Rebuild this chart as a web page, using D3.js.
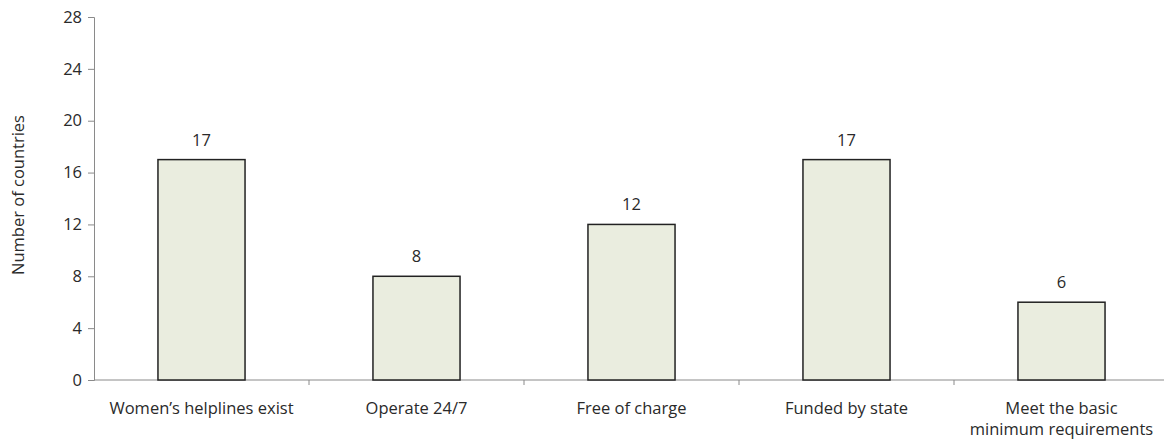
<!DOCTYPE html>
<html>
<head>
<meta charset="utf-8">
<script src="https://cdn.jsdelivr.net/npm/d3@7"></script>
<style>
  body { margin: 0; background: #fff; }
  text { font-family: "Open Sans", sans-serif; fill: #2a2a2a; }
</style>
</head>
<body>
<div id="chart"></div>
<script>
// Data
const categories = ['Women\u2019s helplines exist', 'Operate 24/7', 'Free of charge', 'Funded by state', 'Meet the basic minimum requirements']
const values = [17, 8, 12, 17, 6]
const yTicks = [0, 4, 8, 12, 16, 20, 24, 28]

let width = 1164
let height = 441
let padLeft = 94, padTop = 17, axisBottom = 380, axisRight = 1169

const svg = d3.select('#chart')
  .append('svg')
  .attr('width', width)
  .attr('height', height)

const x = d3.scaleBand()
  .domain(categories)
  .range([padLeft, axisRight])
  .paddingInner(0.595)
  .paddingOuter(0.2975)

const xBound = d3.scaleBand()
  .domain(categories)
  .range([padLeft, axisRight])

const y = d3.scaleLinear()
  .domain([0, 28])
  .range([axisBottom, padTop])

// y axis
const yAxis = svg.append('g')
  .attr('transform', `translate(${padLeft},0)`)
  .call(d3.axisLeft(y).tickValues(yTicks).tickSize(6).tickPadding(6))
yAxis.selectAll('line, path').attr('stroke', '#8a8a8a')
yAxis.selectAll('text').attr('font-size', 16.5).attr('font-family', 'Open Sans').attr('fill', '#2a2a2a')

// x axis: ticks between categories
const xAxis = svg.append('g')
  .attr('transform', `translate(0,${axisBottom})`)
xAxis.append('line')
  .attr('x1', padLeft).attr('x2', axisRight)
  .attr('stroke', '#8a8a8a')
xAxis.selectAll('.sep')
  .data(categories.slice(1))
  .enter()
  .append('line')
  .attr('x1', d => xBound(d)).attr('x2', d => xBound(d))
  .attr('y1', 0).attr('y2', 5)
  .attr('stroke', '#8a8a8a')

// bars
svg.selectAll('rect.bar')
  .data(values)
  .enter()
  .append('rect')
  .attr('class', 'bar')
  .attr('x', (d, i) => x(categories[i]))
  .attr('y', d => y(d))
  .attr('width', x.bandwidth())
  .attr('height', d => y(0) - y(d))
  .attr('fill', '#eaeddf')
  .attr('stroke', '#222')
  .attr('stroke-width', 1.5)

// value labels
svg.selectAll('text.val')
  .data(values)
  .enter()
  .append('text')
  .attr('class', 'val')
  .attr('x', (d, i) => x(categories[i]) + x.bandwidth() / 2)
  .attr('y', d => y(d) - 14)
  .attr('text-anchor', 'middle')
  .attr('font-size', 16.5)
  .text(d => d)

// category labels (last one wraps to two lines)
const labelLines = [['Women\u2019s helplines exist'], ['Operate 24/7'], ['Free of charge'], ['Funded by state'], ['Meet the basic', 'minimum requirements']]
labelLines.forEach((lines, i) => {
  const t = svg.append('text')
    .attr('text-anchor', 'middle')
    .attr('font-size', 16.5)
    .attr('x', x(categories[i]) + x.bandwidth() / 2)
    .attr('y', axisBottom + 34)
  lines.forEach((l, j) => {
    t.append('tspan')
      .attr('x', x(categories[i]) + x.bandwidth() / 2)
      .attr('dy', j === 0 ? 0 : 21)
      .text(l)
  })
})

// y axis title
svg.append('text')
  .attr('transform', `translate(24,195) rotate(-90)`)
  .attr('text-anchor', 'middle')
  .attr('font-size', 16.5)
  .text('Number of countries')
</script>
</body>
</html>
